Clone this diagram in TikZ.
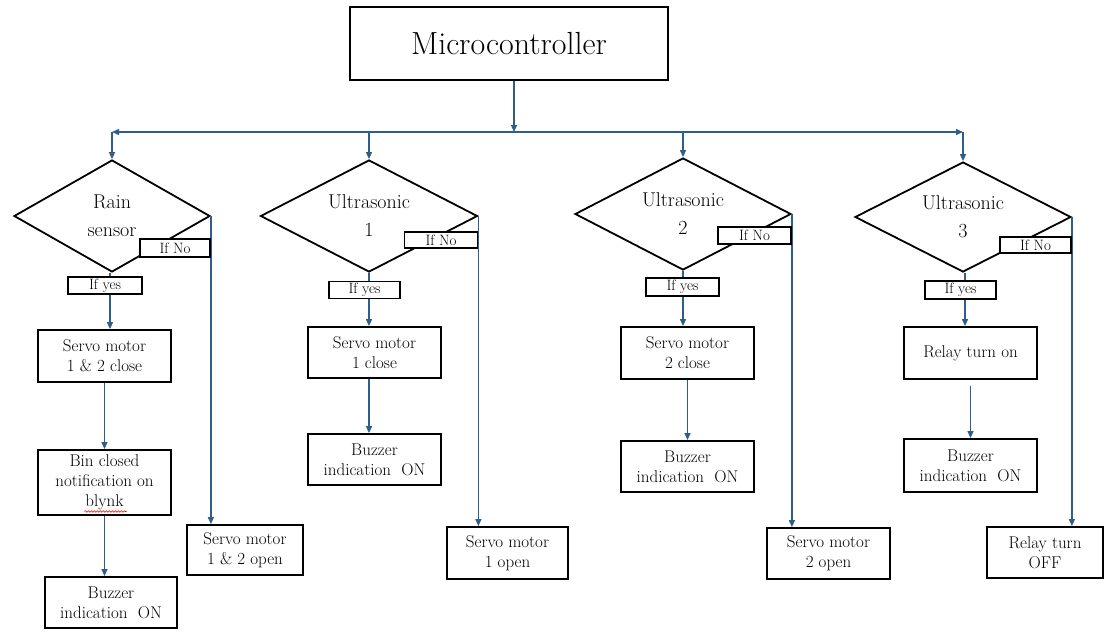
\documentclass[tikz,border=0pt]{standalone}
\usetikzlibrary{arrows.meta,shapes.geometric,decorations.pathmorphing,calc}
\definecolor{connc}{RGB}{46,95,140}
\begin{document}
\begin{tikzpicture}[x=1pt,y=-1pt,
  box/.style={draw=black,line width=1.8pt,fill=white,align=center,inner sep=0pt,font=\fontsize{17}{20}\selectfont},
  dec/.style={draw=black,line width=1.8pt,diamond,shape aspect=2,inner sep=0pt,align=center,font=\fontsize{20}{28}\selectfont},
  lbl/.style={draw=black,line width=1.8pt,fill=white,inner sep=0pt,font=\fontsize{15}{15}\selectfont},
  conn/.style={draw=connc,line width=1.3pt},
  arr/.style={conn,-{Triangle[width=6pt,length=7pt]}},
]
\useasboundingbox (0,0) rectangle (1105,643);

% top
\node[box,minimum width=318pt,minimum height=73pt,font=\fontsize{32}{34}\selectfont] (mc) at (509,43.5) {Microcontroller};
\coordinate (busM) at (514,132);
\coordinate (busL) at (112,132);
\coordinate (busR) at (963,132);

% decisions
\node[dec,minimum width=196pt,minimum height=112pt] (rain) at (112,216) {Rain\\sensor};
\node[dec,minimum width=217pt,minimum height=112pt] (u1) at (369,216) {Ultrasonic\\1};
\node[dec,minimum width=216pt,minimum height=112pt] (u2) at (683,214) {Ultrasonic\\2};
\node[dec,minimum width=216pt,minimum height=110pt] (u3) at (963,217) {Ultrasonic\\3};

% column 1
\node[box,minimum width=133pt,minimum height=52pt] (sc0) at (104.5,356) {Servo motor\\1 \& 2 close};
\node[box,minimum width=133pt,minimum height=65pt] (bin) at (104.5,482.5) {Bin closed\\notification on\\blynk};
\node[box,minimum width=132pt,minimum height=51pt] (bz0) at (111,602.5) {Buzzer\\indication\ \ ON};
\node[box,minimum width=116pt,minimum height=50pt] (op0) at (245,550) {Servo motor\\1 \& 2 open};

% column 2
\node[box,minimum width=133pt,minimum height=51pt] (sc1) at (374.5,352.5) {Servo motor\\1 close};
\node[box,minimum width=133pt,minimum height=51pt] (bz1) at (374.5,459.5) {Buzzer\\indication\ \ ON};
\node[box,minimum width=121pt,minimum height=52pt] (op1) at (507.5,553) {Servo motor\\1 open};

% column 3
\node[box,minimum width=133pt,minimum height=52pt] (sc2) at (687.5,353) {Servo motor\\2 close};
\node[box,minimum width=133pt,minimum height=51pt] (bz2) at (687.5,466.5) {Buzzer\\indication\ \ ON};
\node[box,minimum width=123pt,minimum height=51pt] (op2) at (828.5,553.5) {Servo motor\\2 open};

% column 4
\node[box,minimum width=133pt,minimum height=52pt] (ron) at (970.5,353) {Relay turn on};
\node[box,minimum width=133pt,minimum height=53pt] (bz3) at (970.5,465.5) {Buzzer\\indication\ \ ON};
\node[box,minimum width=116pt,minimum height=51pt] (roff) at (1045,552.5) {Relay turn\\OFF};

% bus
\draw[arr] ([xshift=5pt]mc.south) -- (busM);
\draw[arr] (busM) -- (busL);
\draw[arr] (busM) -- (busR);
\draw[arr] (busL) -- (rain.north);
\draw[arr] (u1.north |- busM) -- (u1.north);
\draw[arr] (u2.north |- busM) -- (u2.north);
\draw[arr] (busR) -- (u3.north);

% yes branches
\draw[arr] ([xshift=-2pt]rain.south) -- ([xshift=-2pt]rain.south |- sc0.north);
\draw[arr] (sc0.south) -- (bin.north);
\draw[arr] (bin.south) -- (bin.south |- bz0.north);
\draw[arr] (u1.south) -- (u1.south |- sc1.north);
\draw[arr] (sc1.south -| u1.south) -- (bz1.north -| u1.south);
\draw[arr] (u2.south) -- (u2.south |- sc2.north);
\draw[arr] (sc2.south) -- (bz2.north);
\draw[arr] ([xshift=2pt]u3.south) -- ([xshift=2pt]u3.south |- ron.north);
\draw[arr] ([yshift=-6pt]ron.south) -- (bz3.north);

% no branches
\draw[arr] (rain.east) -- (rain.east |- op0.north);
\draw[arr] (u1.east) -- (u1.east |- op1.north);
\draw[arr] (u2.east) -- (u2.east |- op2.north);
\draw[arr] (u3.east) -- (u3.east |- roff.north);

% yes / no labels
\node[lbl,minimum width=70pt,minimum height=18pt] (rainNo) at (175,248) {If No};
\node[lbl,minimum width=74pt,minimum height=17pt] (rainYes) at (105,285.5) {If yes};
\node[lbl,minimum width=73pt,minimum height=16pt] (u1No) at (441,240) {If No};
\node[lbl,minimum width=71pt,minimum height=17pt] (u1Yes) at (364.5,290) {If yes};
\node[lbl,minimum width=73pt,minimum height=17pt] (u2No) at (754.5,235.5) {If No};
\node[lbl,minimum width=73pt,minimum height=18pt] (u2Yes) at (682.5,287) {If yes};
\node[lbl,minimum width=71pt,minimum height=16pt] (u3No) at (1035.5,245) {If No};
\node[lbl,minimum width=71pt,minimum height=18pt] (u3Yes) at (960.5,290) {If yes};

% spell-check underline under "blynk"
\draw[red,line width=0.6pt,decorate,decoration={snake,amplitude=0.8pt,segment length=3pt}]
  ($(bin.center)+(-20,29)$) -- ($(bin.center)+(22,29)$);
\end{tikzpicture}
\end{document}
